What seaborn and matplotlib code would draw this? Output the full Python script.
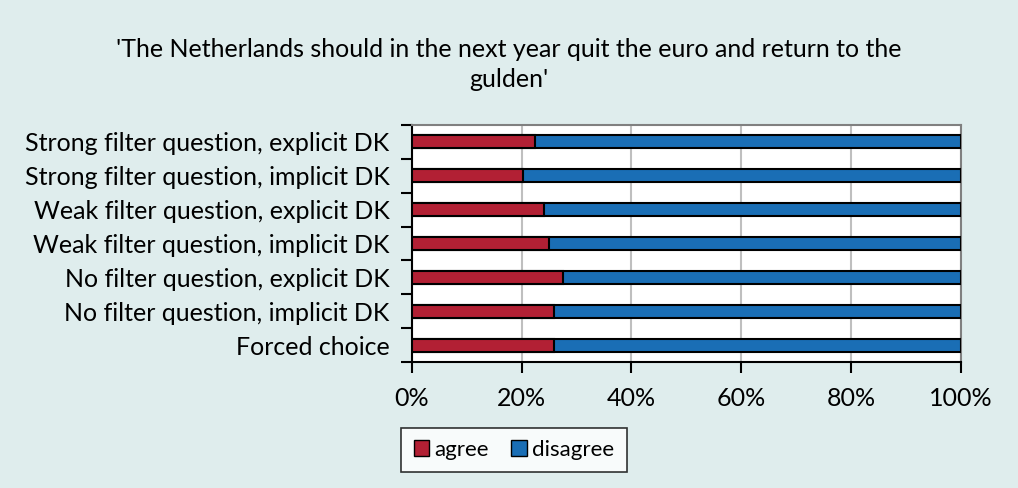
import matplotlib
matplotlib.use('Agg')
import seaborn as sns
import matplotlib.pyplot as plt
from matplotlib.patches import Patch
from matplotlib.ticker import FixedLocator, PercentFormatter

# Data (percent of respondents)
categories = [
    "Strong filter question, explicit DK",
    "Strong filter question, implicit DK",
    "Weak filter question, explicit DK",
    "Weak filter question, implicit DK",
    "No filter question, explicit DK",
    "No filter question, implicit DK",
    "Forced choice",
]
agree = [22.4, 20.3, 24.1, 25.0, 27.6, 25.9, 25.9]
disagree = [77.6, 79.7, 75.9, 75.0, 72.4, 74.1, 74.1]
x_ticks = [0, 20, 40, 60, 80, 100]

title = "'The Netherlands should in the next year quit the euro and return to the\ngulden'"

red = "#B22034"
blue = "#1A6EB5"
bg = "#DFEDED"

sns.set_style("white")
plt.rcParams['font.family'] = ['Lato', 'DejaVu Sans']
plt.rcParams['text.color'] = 'black'
plt.rcParams['xtick.color'] = 'black'
plt.rcParams['ytick.color'] = 'black'
plt.rcParams['axes.labelcolor'] = 'black'

fig = plt.figure(figsize=(10.18, 4.88), dpi=100, facecolor=bg)
ax = fig.add_axes([0.4044, 0.258, 0.5396, 0.486])
ax.set_facecolor("white")

totals = [a + d for a, d in zip(agree, disagree)]

# stacked bars: full bar in blue, agree part drawn over it in red
sns.barplot(x=totals, y=categories, color=blue, orient="h", width=0.39,
            saturation=1, edgecolor="black", linewidth=1.5, ax=ax, zorder=3)
sns.barplot(x=agree, y=categories, color=red, orient="h", width=0.39,
            saturation=1, edgecolor="black", linewidth=1.5, ax=ax, zorder=4)

ax.set_xlim(0, 100)
ax.set_ylim(len(categories) - 0.5, -0.5)
ax.set_xlabel("")
ax.set_ylabel("")

ax.xaxis.set_major_locator(FixedLocator(x_ticks))
ax.xaxis.set_major_formatter(PercentFormatter(decimals=0))
ax.grid(axis="x", color="#BFBFBF", linewidth=1.5, zorder=0)
ax.set_axisbelow(True)

# Excel-style category ticks: marks on the boundaries, labels at centres
ax.set_yticks([i - 0.5 for i in range(len(categories) + 1)])
ax.set_yticklabels([])
ax.set_yticks(range(len(categories)), minor=True)
ax.set_yticklabels(categories, minor=True, fontsize=18)
ax.tick_params(axis="y", which="minor", length=0, pad=16)
ax.tick_params(axis="y", which="major", length=8, width=1.5, color="black", direction="out")
ax.tick_params(axis="x", length=8, width=1.5, color="black", direction="out",
               labelsize=18, pad=10)
ax.yaxis.set_ticks_position("left")
ax.xaxis.set_ticks_position("bottom")

for side in ["left", "bottom"]:
    ax.spines[side].set_color("black")
    ax.spines[side].set_linewidth(1.5)
for side in ["top", "right"]:
    ax.spines[side].set_visible(True)
    ax.spines[side].set_color("#808080")
    ax.spines[side].set_linewidth(1.5)

fig.text(0.5, 0.868, title, ha="center", va="center", fontsize=18,
         linespacing=1.4)

handles = [Patch(facecolor=red, edgecolor="black", label="agree"),
           Patch(facecolor=blue, edgecolor="black", label="disagree")]
leg = fig.legend(handles=handles, loc="center", bbox_to_anchor=(0.505, 0.078),
                 ncol=2, fontsize=16, frameon=True, fancybox=False,
                 handlelength=0.7, handleheight=0.7, handletextpad=0.25,
                 columnspacing=1.0, borderpad=0.55)
leg.get_frame().set_edgecolor("black")
leg.get_frame().set_linewidth(1.2)
leg.get_frame().set_facecolor("white")

fig.savefig("out.png", dpi=100, facecolor=bg)
